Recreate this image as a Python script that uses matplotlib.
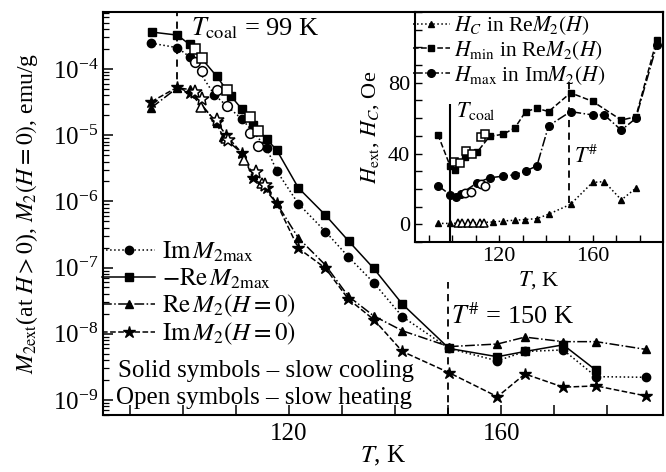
"""
M2 harmonics vs temperature, with inset of characteristic fields.
Solid symbols - slow cooling, open symbols - slow heating.
"""
import numpy as np
import matplotlib
matplotlib.use("Agg")
import matplotlib.pyplot as plt
from matplotlib.ticker import FixedLocator, FixedFormatter, MultipleLocator, LogFormatterMathtext

plt.rcParams.update({
    "font.family": "serif",
    "font.serif": ["Liberation Serif", "DejaVu Serif"],
    "mathtext.fontset": "stix",
    "axes.linewidth": 1.5,
})

T_COAL = 99
T_SHARP = 150

# ── main panel, cooling (solid symbols) ──
T_im_max = [94.1, 99.0, 101.3, 106.0, 111.2, 115.8, 117.7, 121.8, 126.9, 131.2, 136.0,
            141.4, 150.2, 159.3, 164.5, 171.7, 177.9, 187.3]
im_max = [2.45e-4, 2.1e-4, 1.53e-4, 4.05e-5, 1.74e-5, 6.5e-6, 2.9e-6, 9.2e-7, 3.5e-7, 1.46e-7,
          5.9e-8, 1.81e-8, 6.0e-9, 3.9e-9, 5.4e-9, 5.7e-9, 2.25e-9, 2.2e-9]

T_re_max = [94.3, 99.0, 101.3, 106.4, 109.1, 111.2, 113.3, 115.8, 117.7, 121.8, 126.9, 131.3,
            136.0, 141.4, 150.2, 159.3, 164.5, 171.7, 177.9]
re_max = [3.6e-4, 3.25e-4, 2.35e-4, 7.8e-5, 3.9e-5, 2.45e-5, 1.43e-5, 8.7e-6, 6.0e-6, 1.6e-6,
          6.2e-7, 2.5e-7, 9.7e-8, 2.8e-8, 6.0e-9, 4.5e-9, 5.4e-9, 6.8e-9, 2.8e-9]

T_re0 = [94.1, 99.0, 101.3, 106.4, 107.6, 111.2, 113.3, 117.7, 121.8, 126.9, 131.2, 136.0,
         141.4, 150.2, 159.3, 164.5, 171.7, 177.9, 187.3]
re0 = [2.6e-5, 5.2e-5, 4.9e-5, 1.51e-5, 9.5e-6, 5.3e-6, 2.5e-6, 9.4e-7, 2.8e-7, 1.09e-7,
       3.7e-8, 1.86e-8, 1.11e-8, 6.4e-9, 7.0e-9, 8.9e-9, 7.6e-9, 7.6e-9, 5.8e-9]

T_im0 = [94.1, 99.0, 101.3, 106.4, 108.2, 111.2, 113.3, 115.8, 117.7, 121.8, 126.9, 131.2,
         136.0, 141.4, 150.2, 159.3, 164.5, 171.7, 177.9, 187.3]
im0 = [3.2e-5, 5.3e-5, 4.4e-5, 1.58e-5, 1.0e-5, 5.3e-6, 2.23e-6, 1.58e-6, 9.4e-7, 1.96e-7,
       9.8e-8, 3.36e-8, 1.64e-8, 5.4e-9, 2.58e-9, 1.12e-9, 2.47e-9, 1.56e-9, 1.63e-9, 1.15e-9]

# ── main panel, heating (open symbols) ──
T_im_max_h = [102.3, 103.7, 106.4, 108.4, 112.6, 114.2]
im_max_h = [1.29e-4, 9.3e-5, 4.8e-5, 2.76e-5, 1.09e-5, 6.9e-6]
T_re_max_h = [102.3, 103.7, 108.4, 112.6, 114.2]
re_max_h = [1.99e-4, 1.48e-4, 4.8e-5, 1.9e-5, 1.16e-5]
T_re0_h = [103.5, 108.2, 111.5, 115.0]
re0_h = [2.7e-5, 9.0e-6, 4.2e-6, 1.87e-6]
T_im0_h = [102.3, 103.7, 106.4, 108.5, 113.8, 115.5]
im0_h = [4.5e-5, 3.5e-5, 1.7e-5, 8.5e-6, 2.8e-6, 1.77e-6]

# ── inset: characteristic fields, Oe ──
T_hc = [93.8, 99.0, 117.3, 121.7, 126.7, 131.0, 136.1, 141.1, 150.5, 159.9, 164.9, 172.2, 178.4]
h_c = [0.5, 0.5, 1.3, 1.9, 2.3, 2.7, 3.2, 5.7, 11.3, 23.7, 24.1, 13.8, 20.4]
T_hc_h = [102.2, 104.3, 106.5, 108.7, 111.6, 113.7]
h_c_h = [0.5, 0.5, 0.5, 0.5, 0.7, 0.7]

T_hmin = [93.8, 99.0, 101.0, 105.3, 110.5, 115.9, 121.7, 126.7, 131.3, 136.1, 141.1, 150.5,
          159.9, 172.2, 178.4, 187.3]
h_min = [50.7, 33.0, 30.5, 37.8, 40.7, 49.7, 50.9, 54.5, 63.7, 65.6, 63.7, 74.3, 69.5, 58.9,
         60.8, 104.1]
T_hmin_h = [100.7, 103.3, 105.8, 108.2, 112.3, 114.0]
h_min_h = [35.3, 34.9, 41.6, 39.7, 49.3, 51.2]

T_hmax = [93.8, 99.0, 101.5, 103.6, 110.5, 115.9, 121.7, 126.7, 131.3, 136.1, 141.1, 150.5,
          159.9, 164.9, 172.2, 178.4, 187.3]
h_max = [21.9, 16.7, 15.7, 17.3, 23.4, 26.3, 27.2, 28.0, 30.1, 33.0, 55.7, 63.7, 61.8, 61.8,
         53.2, 59.9, 101.2]
T_hmax_h = [105.3, 107.9, 112.3, 114.0]
h_max_h = [17.7, 18.0, 22.5, 21.9]

main_labels = [r"$\mathrm{Im}\,M_{2\mathrm{max}}$", r"$-\mathrm{Re}\,M_{2\mathrm{max}}$",
               r"$\mathrm{Re}\,M_2(H=0)$", r"$\mathrm{Im}\,M_2(H=0)$"]
inset_labels = [r"$H_C$ in Re$M_2(H)$", r"$H_{\mathrm{min}}$ in Re$M_2(H)$",
                r"$H_{\mathrm{max}}$ in Im$M_2(H)$"]
tick_T = list(range(90, 181, 10))
tick_T_labels = [str(t) if t in (120, 160) else "" for t in tick_T]
tick_M = [1e-9, 1e-8, 1e-7, 1e-6, 1e-5, 1e-4]

fig = plt.figure(figsize=(6.66, 4.72), dpi=100)
ax = fig.add_axes([0.1547, 0.1208, 0.8408, 0.8538])

lw = 1.1
ax.plot(T_im_max, im_max, ":", color="k", lw=lw, marker="o", ms=6, label=main_labels[0])
ax.plot(T_re_max, re_max, "-", color="k", lw=lw, marker="s", ms=6, label=main_labels[1])
ax.plot(T_re0, re0, "-.", color="k", lw=lw, marker="^", ms=6, label=main_labels[2])
ax.plot(T_im0, im0, "--", color="k", lw=lw, marker="*", ms=9, label=main_labels[3])

open_kw = dict(ls="none", mfc="white", mec="k", mew=1.1)
ax.plot(T_im_max_h, im_max_h, marker="o", ms=7, **open_kw)
ax.plot(T_re_max_h, re_max_h, marker="s", ms=7, **open_kw)
ax.plot(T_re0_h, re0_h, marker="^", ms=7, **open_kw)
ax.plot(T_im0_h, im0_h, marker="*", ms=10, **open_kw)

ax.set_yscale("log")
ax.set_xlim(85, 190.5)
ax.set_ylim(5.93e-10, 7.26e-4)

ax.vlines(T_COAL, 4.5e-5, 7.26e-4, colors="k", linestyles=(0, (4, 3)), lw=1.3)
ax.vlines(T_SHARP, 5.93e-10, 6e-8, colors="k", linestyles=(0, (4, 3)), lw=1.3)
ax.text(101.5, 4.1e-4, r"$T_{\mathrm{coal}}$ = 99 K", fontsize=19, va="center")
ax.text(150.5, 1.85e-8, r"$T^{\#}$ = 150 K", fontsize=19, va="center")

ax.text(0.027, 0.11, "Solid symbols – slow cooling", transform=ax.transAxes,
        fontsize=18, va="center")
ax.text(0.024, 0.043, "Open symbols – slow heating", transform=ax.transAxes,
        fontsize=18, va="center")

ax.legend(loc="upper left", bbox_to_anchor=(-0.001, 0.434), frameon=False, fontsize=18,
          handlelength=2.1, handletextpad=0.3, labelspacing=0.08, borderpad=0.0,
          borderaxespad=0.0)

ax.xaxis.set_major_locator(FixedLocator(tick_T))
ax.xaxis.set_major_formatter(FixedFormatter(tick_T_labels))
ax.yaxis.set_major_locator(FixedLocator(tick_M))
ax.yaxis.set_major_formatter(LogFormatterMathtext())
ax.tick_params(which="both", direction="in", top=False, right=False, labelsize=18)
ax.tick_params(which="major", length=7, width=1.1)
ax.tick_params(which="minor", length=4, width=0.9)
ax.tick_params(axis="x", pad=6)
ax.set_xlabel(r"$T$, K", fontsize=18, labelpad=-1)
ax.set_ylabel(r"$M_{2\mathrm{ext}}$(at $H{>}0$), $M_2(H=0)$, emu/g", fontsize=17,
              labelpad=9)

# ── inset ──
ins = fig.add_axes([0.6231, 0.4873, 0.3724, 0.4873])
ins.plot(T_hc, h_c, ":", color="k", lw=lw, marker="^", ms=5, label=inset_labels[0])
ins.plot(T_hmin, h_min, "--", color="k", lw=lw, marker="s", ms=5, label=inset_labels[1])
ins.plot(T_hmax, h_max, "-.", color="k", lw=lw, marker="o", ms=5.5, label=inset_labels[2])
ins.plot(T_hc_h, h_c_h, marker="^", ms=6, **open_kw)
ins.plot(T_hmin_h, h_min_h, marker="s", ms=6, **open_kw)
ins.plot(T_hmax_h, h_max_h, marker="o", ms=6, **open_kw)

ins.set_xlim(84, 190)
ins.set_ylim(-10, 120)
ins.vlines(T_COAL, -10, 68, colors="k", lw=1.5)
ins.vlines(T_SHARP, 12, 82, colors="k", linestyles=(0, (4, 3)), lw=1.3)
ins.text(101.5, 64, r"$T_{\mathrm{coal}}$", fontsize=16, va="center")
ins.text(152, 38, r"$T^{\#}$", fontsize=16, va="center")

ins.legend(loc="upper left", bbox_to_anchor=(-0.008, 0.99), frameon=False, fontsize=15.5,
           handlelength=1.7, handletextpad=0.2, labelspacing=0.1, borderpad=0.0,
           borderaxespad=0.0)

ins.xaxis.set_major_locator(FixedLocator(tick_T))
ins.xaxis.set_major_formatter(FixedFormatter(tick_T_labels))
ins.yaxis.set_major_locator(FixedLocator([0, 40, 80]))
ins.yaxis.set_minor_locator(MultipleLocator(10))
ins.tick_params(which="both", direction="in", top=False, right=False, labelsize=16,
                length=5, width=1.0)
ins.set_xlabel(r"$T$, K", fontsize=16, labelpad=2)
ins.set_ylabel(r"$H_{\mathrm{ext}}$, $H_C$, Oe", fontsize=16, labelpad=5)

fig.savefig("out.png", dpi=100)
